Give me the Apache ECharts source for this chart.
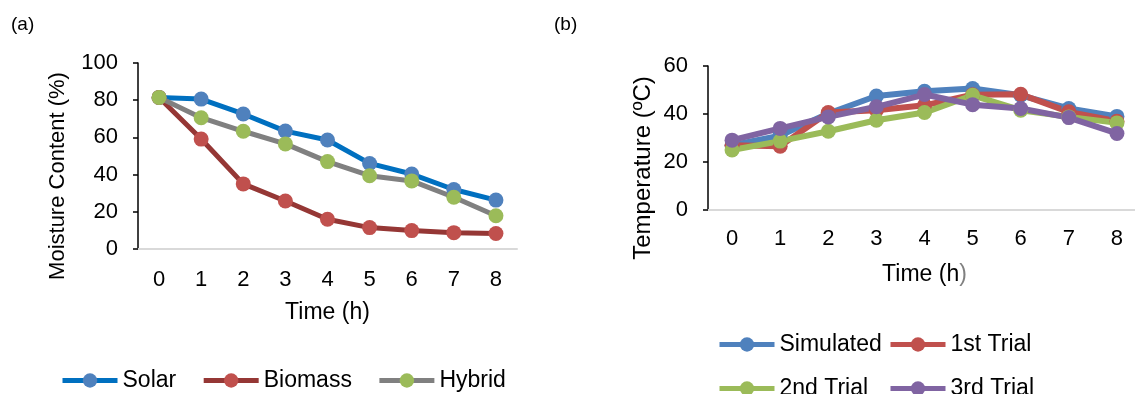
<!DOCTYPE html>
<html>
<head>
<meta charset="utf-8">
<script src="https://cdn.jsdelivr.net/npm/echarts@6/dist/echarts.min.js"></script>
<style>
  html, body { margin: 0; padding: 0; background: #fff; }
  #chart { width: 1135px; height: 394px; }
</style>
</head>
<body>
<div id="chart"></div>
<script>
// hours on the x axis (both panels)
var timeLabels = ['0', '1', '2', '3', '4', '5', '6', '7', '8'];

// (a) moisture content, %
var solar   = [81.5, 80.6, 72.6, 63.4, 58.6, 46.0, 40.3, 32.0, 26.3];
var biomass = [81.5, 59.1, 35.0, 25.8, 16.0, 11.5, 9.9, 8.8, 8.3];
var hybrid  = [81.5, 70.6, 63.3, 56.5, 47.0, 39.4, 36.6, 27.8, 17.9];

// (b) temperature, ºC
var simulated = [27.0, 31.0, 40.2, 47.5, 49.5, 50.6, 47.8, 42.3, 39.0];
var trial1    = [27.0, 26.6, 40.6, 41.6, 43.6, 48.0, 48.2, 40.9, 37.0];
var trial2    = [25.0, 28.7, 32.8, 37.4, 40.6, 47.8, 41.6, 38.8, 36.3];
var trial3    = [29.1, 34.0, 38.8, 43.0, 48.1, 43.9, 42.3, 38.5, 31.9];

var FONT = '"Liberation Sans", Arial, sans-serif';

function lineSeries(name, data, lineColor, dotColor, idx, width) {
	return {
		type: 'line',
		name: name,
		data: data,
		xAxisIndex: idx,
		yAxisIndex: idx,
		symbol: 'circle',
		symbolSize: 15,
		lineStyle: {color: lineColor, width: width},
		itemStyle: {color: dotColor, borderWidth: 0},
		emphasis: {disabled: true}
	};
}

function catAxis(idx, nameGap, labelMargin) {
	return {
		type: 'category',
		gridIndex: idx,
		data: timeLabels,
		boundaryGap: true,
		axisLine: {lineStyle: {color: '#d9d9d9', width: 2}},
		axisTick: {show: false},
		axisLabel: {color: '#000', fontSize: 22, fontFamily: FONT, margin: labelMargin},
		name: '{a|Time (h}{b|)}',
		nameLocation: 'middle',
		nameGap: nameGap,
		nameTextStyle: {
			rich: {
				a: {color: '#000', fontSize: 23, fontFamily: FONT},
				b: {color: idx == 1 ? '#808080' : '#000', fontSize: 23, fontFamily: FONT}
			}
		}
	};
}

function valAxis(idx, max, name, nameGap, shift, size) {
	return {
		type: 'value',
		gridIndex: idx,
		min: 0,
		max: max,
		interval: 20,
		axisLine: {show: true, lineStyle: {color: '#000', width: 1.5}},
		axisTick: {show: true, inside: false, length: 5, lineStyle: {color: '#000', width: 1.5}},
		splitLine: {show: false},
		axisLabel: {color: '#000', fontSize: 22, fontFamily: FONT, margin: 20},
		name: name,
		nameLocation: 'middle',
		nameRotate: 90,
		nameGap: nameGap,
		nameTextStyle: {color: '#000', fontSize: size, fontFamily: FONT, padding: [0, shift, 0, 0]}
	};
}

// one legend box per entry so the two columns in (b) line up like the original
function legendBox(names, left, top) {
	return {
		data: names,
		left: left, top: top,
		padding: 0,
		itemWidth: 55, itemHeight: 18, itemGap: 25,
		lineStyle: {width: 5},
		textStyle: {color: '#000', fontSize: 23, fontFamily: FONT}
	};
}

var chart = echarts.init(document.getElementById('chart'));

var option = {
	animation: false,
	backgroundColor: '#fff',
	title: [
		{text: '(a)', left: 6, top: 10, textStyle: {color: '#000', fontSize: 19, fontWeight: 'normal', fontFamily: FONT}},
		{text: '(b)', left: 549, top: 10, textStyle: {color: '#000', fontSize: 19, fontWeight: 'normal', fontFamily: FONT}}
	],
	grid: [
		{left: 138, top: 63, width: 379, height: 186, outerBoundsMode: 'none'},
		{left: 708, top: 66, right: -6, height: 144, outerBoundsMode: 'none'}
	],
	xAxis: [catAxis(0, 52, 20), catAxis(1, 53, 18)],
	yAxis: [
		valAxis(0, 100, 'Moisture Content (%)', 69, 40, 22),
		valAxis(1, 60, 'Temperature (ºC)', 53, 60, 24)
	],
	legend: [
		legendBox(['Solar', 'Biomass', 'Hybrid'], 60, 369),
		legendBox(['Simulated'], 717, 333),
		legendBox(['1st Trial'], 888, 333),
		legendBox(['2nd Trial'], 717, 377),
		legendBox(['3rd Trial'], 888, 377)
	],
	series: [
		lineSeries('Solar', solar, '#0070C0', '#4F81BD', 0, 5),
		lineSeries('Biomass', biomass, '#953735', '#C0504D', 0, 5),
		lineSeries('Hybrid', hybrid, '#808080', '#9BBB59', 0, 5),
		lineSeries('Simulated', simulated, '#4F81BD', '#4F81BD', 1, 6),
		lineSeries('1st Trial', trial1, '#C0504D', '#C0504D', 1, 6),
		lineSeries('2nd Trial', trial2, '#9BBB59', '#9BBB59', 1, 6),
		lineSeries('3rd Trial', trial3, '#8064A2', '#8064A2', 1, 6)
	]
};

chart.setOption(option);
</script>
</body>
</html>
